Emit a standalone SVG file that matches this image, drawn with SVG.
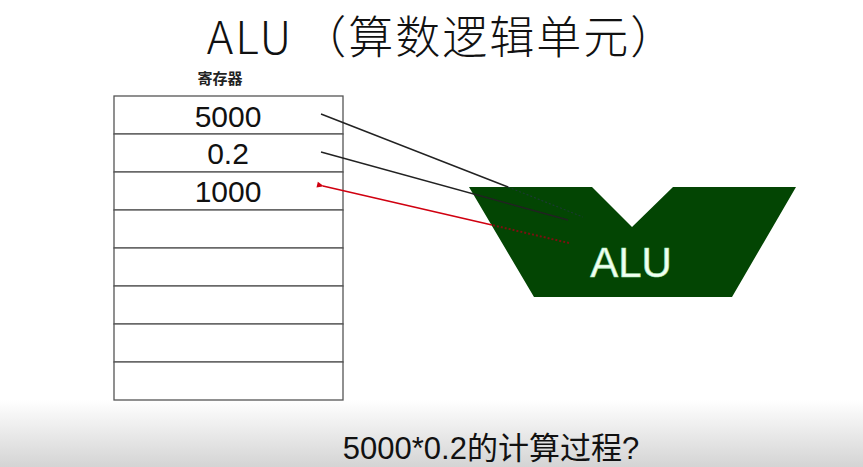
<svg xmlns="http://www.w3.org/2000/svg" width="863" height="467" viewBox="0 0 863 467">
<defs>
<style>
.cell{fill:#fff;stroke:#555;stroke-width:1.3}
.num{font-family:"Liberation Sans",Arial,sans-serif;font-size:30px;fill:#111;text-anchor:middle}
.wire{stroke:#222;stroke-width:1.4;fill:none}
</style>
<linearGradient id="bot" x1="0" y1="0" x2="0" y2="1">
<stop offset="0" stop-color="#ffffff"/>
<stop offset="1" stop-color="#d4d4d4"/>
</linearGradient>
<marker id="redhead" markerWidth="8" markerHeight="8" refX="1" refY="3" orient="auto" markerUnits="userSpaceOnUse">
<path d="M7,0 L0,3 L7,6 z" fill="#d00010"/>
</marker>
</defs>
<rect width="863" height="467" fill="#fff"/>
<rect x="0" y="400" width="863" height="67" fill="url(#bot)"/>
<text x="442" y="54" font-family="'Noto Sans CJK SC',sans-serif" font-size="45" font-weight="300" letter-spacing="2" text-anchor="middle" fill="#111"><tspan>ALU</tspan><tspan dx="8">（算数逻辑单元）</tspan></text>
<g id="registers">
<text x="220" y="84" font-family="'Noto Sans CJK SC',sans-serif" font-size="15" font-weight="bold" text-anchor="middle" fill="#222">寄存器</text>
<rect class="cell" x="114" y="96" width="229" height="38"/>
<rect class="cell" x="114" y="134" width="229" height="38"/>
<rect class="cell" x="114" y="172" width="229" height="38"/>
<rect class="cell" x="114" y="210" width="229" height="38"/>
<rect class="cell" x="114" y="248" width="229" height="38"/>
<rect class="cell" x="114" y="286" width="229" height="38"/>
<rect class="cell" x="114" y="324" width="229" height="38"/>
<rect class="cell" x="114" y="362" width="229" height="38"/>
<text class="num" x="228" y="127">5000</text>
<text class="num" x="228" y="164">0.2</text>
<text class="num" x="228" y="202">1000</text>
</g>
<g id="alu">
<polygon points="469,187 592,187 632,227 673,187 796,187 732,297 534,297" fill="#034503"/>
<text x="631" y="277" font-family="'Liberation Sans',Arial,sans-serif" font-size="42" text-anchor="middle" fill="#f2fff2" stroke="#a8e8b8" stroke-width="0.6">ALU</text>
</g>
<g id="connectors">
<line class="wire" x1="321" y1="114" x2="508" y2="187"/>
<line x1="508" y1="187" x2="583" y2="217" stroke="#1a3a30" stroke-width="1.2" stroke-dasharray="2,2"/>
<line class="wire" x1="321" y1="152" x2="568" y2="220"/>
<line x1="569" y1="243" x2="492" y2="225" stroke="#7a1010" stroke-width="2" stroke-dasharray="2,2"/>
<line x1="492" y1="225" x2="323" y2="186" stroke="#d00010" stroke-width="1.6" marker-end="url(#redhead)"/>
</g>
<text x="491" y="459" font-family="'Liberation Sans','Noto Sans CJK SC',sans-serif" font-size="31" text-anchor="middle" fill="#111">5000*0.2的计算过程?</text>
</svg>
